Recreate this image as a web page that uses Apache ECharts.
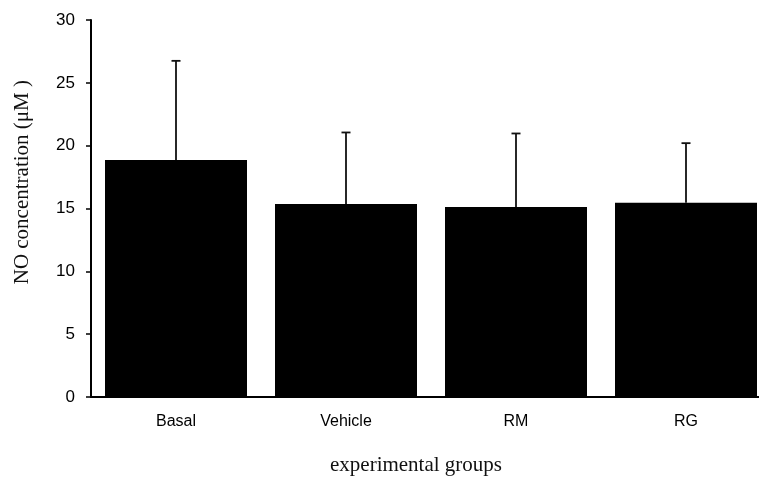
<!DOCTYPE html>
<html>
<head>
<meta charset="utf-8">
<script src="https://cdn.jsdelivr.net/npm/echarts@6/dist/echarts.min.js"></script>
<style>html,body{margin:0;padding:0;background:#fff;}#chart{width:759px;height:482px;}</style>
</head>
<body>
<div id="chart"></div>
<script>
const categories = ['Basal', 'Vehicle', 'RM', 'RG'];
const means = [18.85, 15.35, 15.12, 15.45];
const sdValues = [7.9, 5.7, 5.85, 4.75];
const yTicks = [0, 5, 10, 15, 20, 25, 30];

const chart = echarts.init(document.getElementById('chart'), null, {renderer: 'canvas'});
const errData = categories.map((c, i) => [i, means[i], means[i] + sdValues[i]]);

chart.setOption({
  animation: false,
  backgroundColor: '#fff',
  grid: {left: 91, top: 20, width: 680, height: 377, containLabel: false, outerBoundsMode: 'none'},
  xAxis: {
    type: 'category',
    data: categories,
    axisLine: {lineStyle: {color: '#000', width: 2}},
    axisTick: {show: false},
    axisLabel: {color: '#000', fontFamily: 'Liberation Sans, Arial, sans-serif', fontSize: 16, margin: 17}
  },
  yAxis: {
    type: 'value',
    min: yTicks[0],
    max: yTicks[yTicks.length - 1],
    interval: 5,
    axisLine: {show: true, lineStyle: {color: '#000', width: 2}},
    axisTick: {show: true, length: 5, lineStyle: {color: '#000', width: 1.5}},
    splitLine: {show: false},
    axisLabel: {color: '#000', fontFamily: 'Liberation Sans, Arial, sans-serif', fontSize: 17, margin: 16}
  },
  graphic: [
    {
      type: 'text',
      left: 12, top: 80,
      rotation: Math.PI / 2,
      style: {text: 'NO concentration (\u03bcM )', font: '21px "Liberation Serif", "Times New Roman", serif', fill: '#111'}
    },
    {
      type: 'text',
      left: 330, top: 455,
      style: {text: 'experimental groups', font: '21px "Liberation Serif", "Times New Roman", serif', fill: '#111'}
    }
  ],
  series: [
    {
      type: 'bar',
      data: means,
      barWidth: 142,
      itemStyle: {color: '#000'},
      z: 2
    },
    {
      type: 'custom',
      data: errData,
      z: 3,
      renderItem: function (params, api) {
        const x = api.value(0);
        const p0 = api.coord([x, api.value(1)]);
        const p1 = api.coord([x, api.value(2)]);
        const half = 4.5;
        const style = {stroke: '#111', lineWidth: 1.8};
        return {
          type: 'group',
          children: [
            {type: 'line', shape: {x1: p0[0], y1: p0[1], x2: p1[0], y2: p1[1]}, style: style},
            {type: 'line', shape: {x1: p1[0] - half, y1: p1[1], x2: p1[0] + half, y2: p1[1]}, style: style}
          ]
        };
      }
    }
  ]
});
</script>
</body>
</html>
